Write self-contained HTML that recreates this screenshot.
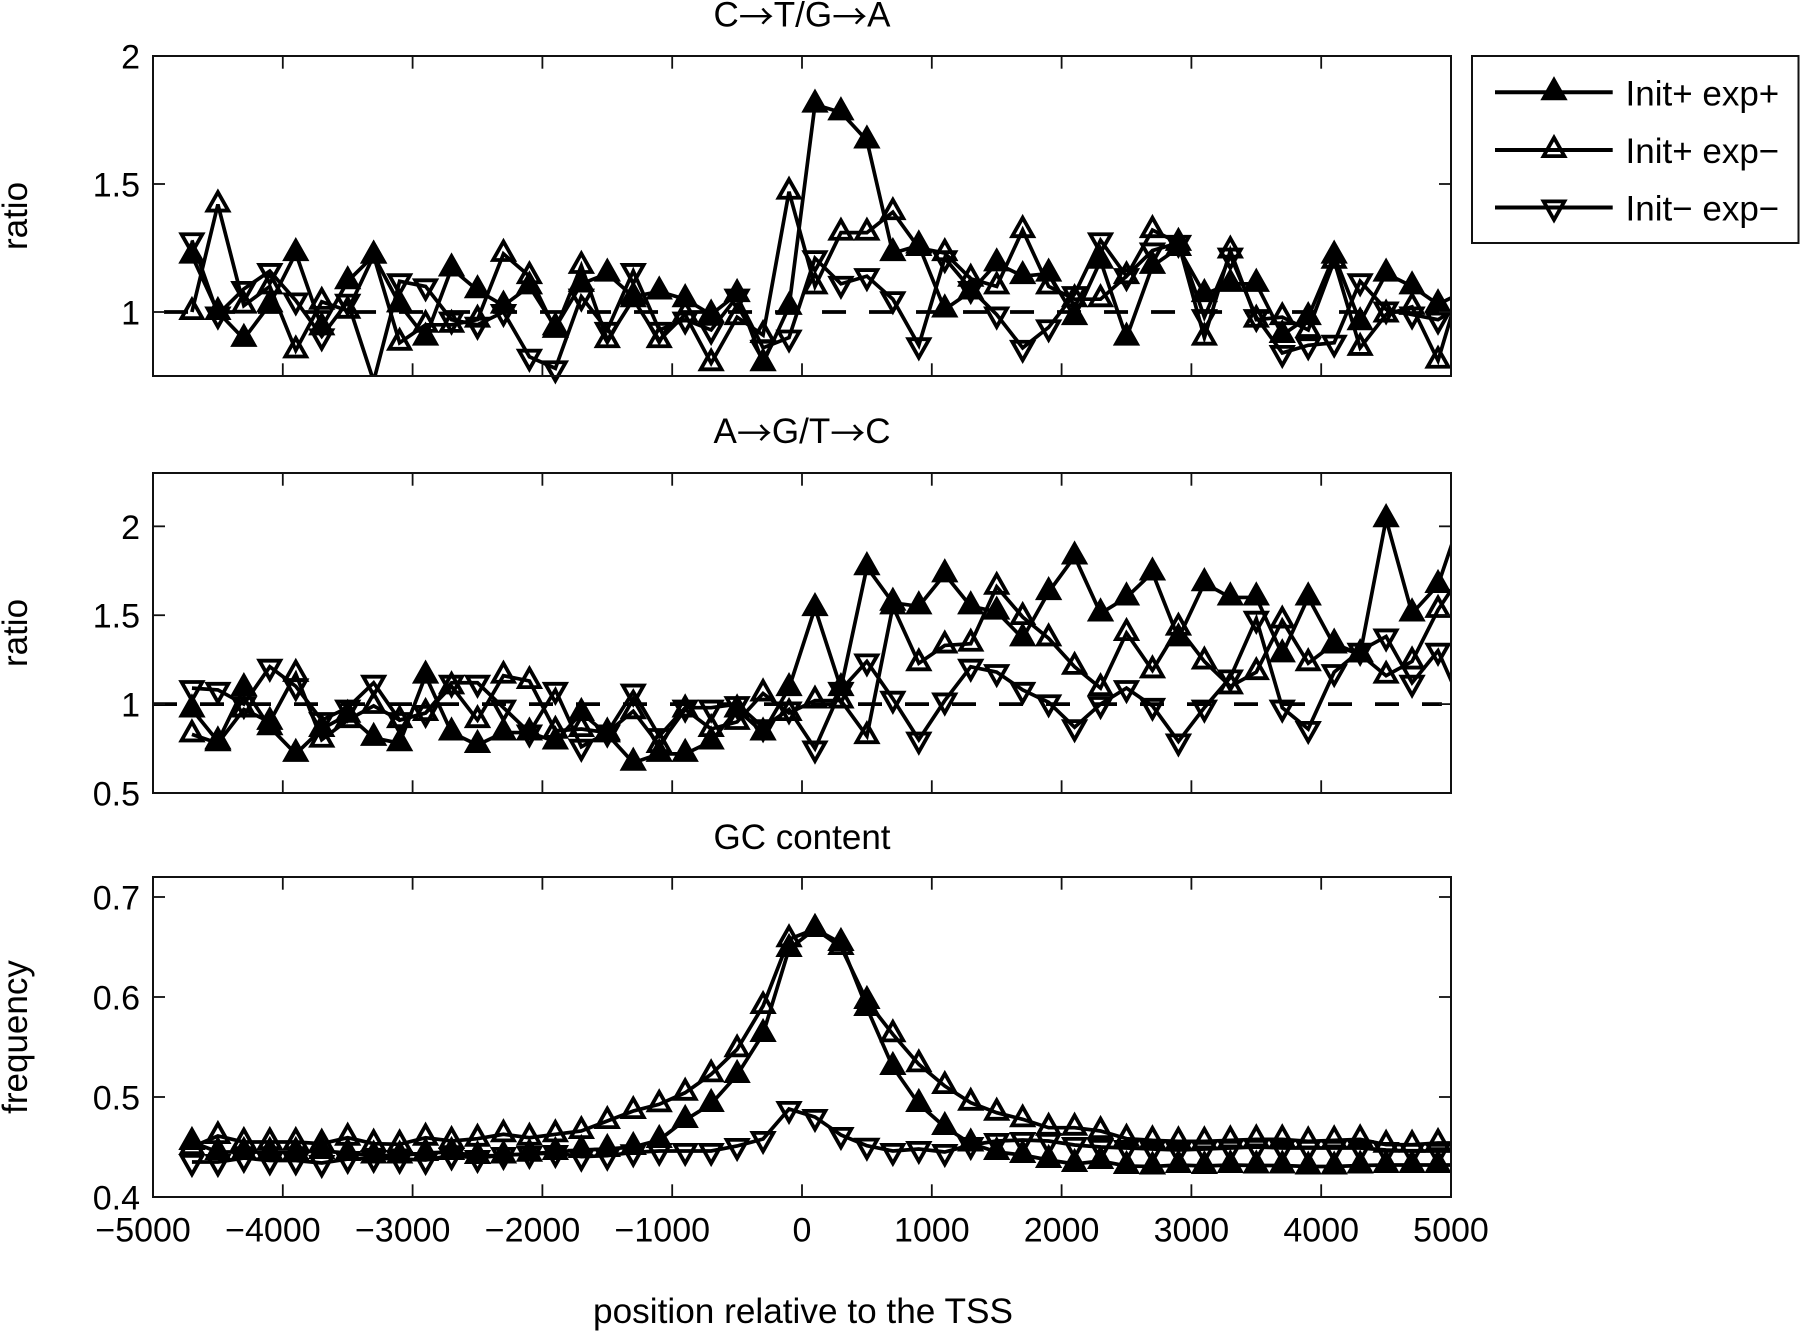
<!DOCTYPE html>
<html lang="en">
<head>
<meta charset="utf-8">
<title>Mutation ratios and GC content around the TSS</title>
<style>
html,body{margin:0;padding:0;background:#fff;}
svg{display:block;font-family:"Liberation Sans",Arial,sans-serif;fill:#000;}
.arrow{font-family:"Noto Sans CJK JP","Liberation Sans",sans-serif;}
</style>
</head>
<body>
<svg id="chart" xmlns="http://www.w3.org/2000/svg" width="1800" height="1332" viewBox="0 0 1800 1332">
  <rect x="0" y="0" width="1800" height="1332" fill="#fff"/>
  <defs>
    <clipPath id="clip-ct"><rect x="153" y="56" width="1298" height="320"/></clipPath>
    <clipPath id="clip-ag"><rect x="153" y="473" width="1298" height="320"/></clipPath>
    <clipPath id="clip-gc"><rect x="153" y="877" width="1298" height="320"/></clipPath>
  </defs>
  <text x="802" y="26.5" font-size="35" text-anchor="middle">C<tspan class="arrow" dy="3">→</tspan><tspan dy="-3">T/G</tspan><tspan class="arrow" dy="3">→</tspan><tspan dy="-3">A</tspan></text>
  <text x="802" y="443" font-size="35" text-anchor="middle">A<tspan class="arrow" dy="3">→</tspan><tspan dy="-3">G/T</tspan><tspan class="arrow" dy="3">→</tspan><tspan dy="-3">C</tspan></text>
  <text x="802" y="849" font-size="35" text-anchor="middle">GC content</text>
  <text transform="translate(27,216) rotate(-90)" font-size="35" text-anchor="middle">ratio</text>
  <text transform="translate(27,633) rotate(-90)" font-size="35" text-anchor="middle">ratio</text>
  <text transform="translate(27,1037) rotate(-90)" font-size="35" text-anchor="middle">frequency</text>
  <text x="803" y="1323" font-size="35.2" text-anchor="middle">position relative to the TSS</text>
  <g id="panels"></g>
  <g>
    <rect x="1472" y="56" width="326.5" height="187" fill="#fff" stroke="#111" stroke-width="2"/>
    <g>
      <line x1="1495" y1="92.3" x2="1612.7" y2="92.3" stroke="#000" stroke-width="4"/>
      <path d="M1554,80 L1564.4,98.4 L1543.6,98.4 Z" fill="#000" stroke="#000" stroke-width="3.8"/>
      <text x="1625.5" y="105.5" font-size="35">Init+ exp+</text>
    </g>
    <g>
      <line x1="1495" y1="150" x2="1612.7" y2="150" stroke="#000" stroke-width="4"/>
      <path d="M1554,137.7 L1564.4,156.1 L1543.6,156.1 Z" fill="none" stroke="#000" stroke-width="3.8"/>
      <text x="1625.5" y="163" font-size="35">Init+ exp−</text>
    </g>
    <g>
      <line x1="1495" y1="207.5" x2="1612.7" y2="207.5" stroke="#000" stroke-width="4"/>
      <path d="M1554,219.8 L1564.4,201.4 L1543.6,201.4 Z" fill="none" stroke="#000" stroke-width="3.8"/>
      <text x="1625.5" y="220.5" font-size="35">Init− exp−</text>
    </g>
  </g>
</svg>
<script>
const positions = [-4700,-4500,-4300,-4100,-3900,-3700,-3500,-3300,-3100,-2900,-2700,-2500,-2300,-2100,-1900,-1700,-1500,-1300,-1100,-900,-700,-500,-300,-100,100,300,500,700,900,1100,1300,1500,1700,1900,2100,2300,2500,2700,2900,3100,3300,3500,3700,3900,4100,4300,4500,4700,4900,5100];

const ctInitPlusExpPlus = [1.22,1.0,.895,1.03,1.23,.94,1.12,1.22,1.03,.9,1.17,1.085,1.025,1.1,.94,1.11,1.15,1.06,1.08,1.05,.99,1.07,.8,1.02,1.81,1.78,1.67,1.23,1.26,1.01,1.08,1.19,1.14,1.15,.98,1.2,.9,1.18,1.25,1.07,1.11,1.11,.91,.98,1.22,.96,1.15,1.1,1.03,1.08];
const ctInitPlusExpMinus = [1.0,1.42,1.025,1.1,.85,1.04,1.005,1.22,.88,.95,.95,.97,1.227,1.14,.93,1.18,.89,1.05,.89,.99,.8,.98,.91,1.47,1.1,1.31,1.31,1.39,1.25,1.23,1.13,1.1,1.32,1.1,1.05,1.05,1.14,1.32,1.27,.9,1.24,.97,.98,.93,1.2,.86,.99,1.02,.81,1.15];
const ctInitMinusExpMinus = [1.28,.99,1.09,1.16,1.045,.905,1.04,.73,1.12,1.1,.97,.95,1.0,.825,.78,1.06,.93,1.16,.93,.97,.93,1.06,.86,.9,1.21,1.11,1.14,1.05,.87,1.21,1.09,.99,.86,.94,1.07,1.28,1.14,1.24,1.27,.98,1.22,.98,.84,.87,.88,1.12,1.01,.99,.97,1.03];

const agInitPlusExpPlus = [.97,.79,1.09,.87,.72,.86,.94,.81,.78,1.16,.84,.77,.84,.84,.79,.95,.83,.67,.72,.72,.79,.97,.84,1.09,1.54,1.09,1.77,1.57,1.55,1.73,1.55,1.52,1.37,1.63,1.83,1.51,1.6,1.74,1.37,1.68,1.6,1.6,1.28,1.6,1.33,1.28,2.04,1.51,1.67,2.1];
const agInitPlusExpMinus = [.83,.78,.97,.9,1.17,.8,.91,.99,.91,.95,1.1,.91,1.16,1.13,.85,.86,.84,.96,.77,.97,.86,.9,1.06,.95,1.02,1.02,.82,1.55,1.23,1.33,1.34,1.66,1.49,1.37,1.21,1.09,1.4,1.19,1.43,1.24,1.1,1.18,1.47,1.23,1.34,1.28,1.16,1.24,1.53,1.75];
const agInitMinusExpMinus = [1.09,1.08,1.0,1.21,1.1,.91,.98,1.12,.91,.95,1.12,1.12,.98,.84,1.08,.76,.84,1.07,.82,.98,.98,1.0,.87,.97,.75,1.08,1.24,1.03,.8,1.02,1.21,1.18,1.08,1.01,.87,1.0,1.09,.99,.79,.98,1.15,1.48,.98,.86,1.18,1.3,1.38,1.12,1.3,.97];

const gcInitPlusExpPlus = [.455,.445,.445,.445,.445,.446,.444,.4415,.4415,.444,.445,.441,.4415,.4433,.445,.447,.448,.45,.457,.477,.493,.522,.563,.648,.668,.654,.589,.53,.493,.47,.4535,.445,.442,.437,.433,.436,.431,.4305,.432,.431,.432,.4315,.4315,.4305,.4305,.4315,.432,.432,.432,.432];
const gcInitPlusExpMinus = [.45,.461,.455,.455,.455,.4533,.4593,.4533,.4527,.4593,.456,.4583,.4627,.4593,.4627,.466,.476,.486,.4927,.5043,.5227,.5477,.591,.6577,.668,.65,.596,.5627,.5327,.511,.4943,.4843,.4777,.4693,.4693,.466,.4583,.4567,.4557,.4557,.4567,.4577,.4577,.4557,.4567,.4577,.4523,.4523,.454,.454];
const gcInitMinusExpMinus = [.435,.435,.439,.4365,.4365,.434,.438,.439,.438,.437,.4415,.439,.442,.443,.444,.4403,.4413,.4447,.446,.446,.446,.451,.458,.488,.48,.462,.4513,.446,.448,.445,.452,.456,.457,.456,.452,.45,.449,.448,.447,.448,.449,.45,.449,.449,.449,.449,.447,.446,.446,.446];

const xTicks = [-5000,-4000,-3000,-2000,-1000,0,1000,2000,3000,4000,5000];
const ctYTicks = [1,1.5,2];
const agYTicks = [0.5,1,1.5,2];
const gcYTicks = [0.4,0.5,0.6,0.7];
const ctYTickLabels = ['1','1.5','2'];
const agYTickLabels = ['0.5','1','1.5','2'];
const gcYTickLabels = ['0.4','0.5','0.6','0.7'];
const xLimits = [-5000,5000];
const ctYLimits = [0.75,2];
const agYLimits = [0.5,2.3];
const gcYLimits = [0.4,0.72];
const referenceLevel = 1;

const NS = 'http://www.w3.org/2000/svg';
const plotLeft = 153, plotRight = 1451;
const root = document.getElementById('panels');

function make(parent, tag, attrs) {
  const el = document.createElementNS(NS, tag);
  for (const k in attrs) el.setAttribute(k, attrs[k]);
  parent.appendChild(el);
  return el;
}
function xScale(v) {
  return plotLeft + (v - xLimits[0]) / (xLimits[1] - xLimits[0]) * (plotRight - plotLeft);
}
function markerPath(kind, x, y) {
  if (kind === 'down') {
    return 'M' + x + ',' + (y + 12.3) + ' L' + (x + 10.4) + ',' + (y - 6.1) + ' L' + (x - 10.4) + ',' + (y - 6.1) + ' Z';
  }
  return 'M' + x + ',' + (y - 12.3) + ' L' + (x + 10.4) + ',' + (y + 6.1) + ' L' + (x - 10.4) + ',' + (y + 6.1) + ' Z';
}
function drawSeries(group, clipId, values, kind, filled, yScale, yLimits) {
  const g = make(group, 'g', {});
  
  
  const pts = values.map(function (v, i) { return xScale(positions[i]).toFixed(2) + ',' + yScale(v).toFixed(2); }).join(' ');
  const line = make(g, 'polyline', { points: pts, fill: 'none', stroke: '#000', 'stroke-width': 3.7, 'stroke-linejoin': 'miter', 'clip-path': 'url(#' + clipId + ')' });
  
  
  values.forEach(function (v, i) {
    if (positions[i] > xLimits[1] || v < yLimits[0] || v > yLimits[1]) return;
    const m = make(g, 'path', { d: markerPath(kind, xScale(positions[i]), yScale(v)), fill: filled ? '#000' : 'none', stroke: '#000', 'stroke-width': 3.8 });
    
    
  });
}
function drawPanel(name, top, bottom, yLimits, yTicks, yLabels, series, clipId, showRef, refStart, showXLabels) {
  const group = make(root, 'g', {});
  
  
  const yScale = function (v) { return bottom - (v - yLimits[0]) / (yLimits[1] - yLimits[0]) * (bottom - top); };

  if (showRef) {
    const ref = make(group, 'line', { x1: xScale(refStart), x2: xScale(4930), y1: yScale(referenceLevel), y2: yScale(referenceLevel), stroke: '#000', 'stroke-width': 3.8, 'stroke-dasharray': '24 23' });
    
    
  }
  drawSeries(group, clipId, series[0], 'up', true, yScale, yLimits);
  drawSeries(group, clipId, series[1], 'up', false, yScale, yLimits);
  drawSeries(group, clipId, series[2], 'down', false, yScale, yLimits);

  const frame = make(group, 'rect', { x: plotLeft, y: top, width: plotRight - plotLeft, height: bottom - top, fill: 'none', stroke: '#111', 'stroke-width': 2 });
  
  

  xTicks.forEach(function (t) {
    const x = xScale(t);
    if (t !== xLimits[0] && t !== xLimits[1]) {
      const a = make(group, 'line', { x1: x, x2: x, y1: top, y2: top + 12.7, stroke: '#111', 'stroke-width': 1.8 });
      
      
      const b = make(group, 'line', { x1: x, x2: x, y1: bottom, y2: bottom - 12.7, stroke: '#111', 'stroke-width': 1.8 });
      
      
    }
    if (showXLabels) {
      const label = make(group, 'text', { x: x - (t < 0 ? 9.9 : 0), y: bottom + 44.5, 'font-size': 34, 'text-anchor': 'middle' });
      label.textContent = (t < 0 ? '−' : '') + Math.abs(t);
      
      
    }
  });
  yTicks.forEach(function (t, i) {
    const y = yScale(t);
    const a = make(group, 'line', { x1: plotLeft, x2: plotLeft + 12, y1: y, y2: y, stroke: '#111', 'stroke-width': 1.8 });
    
    
    const b = make(group, 'line', { x1: plotRight, x2: plotRight - 12, y1: y, y2: y, stroke: '#111', 'stroke-width': 1.8 });
    
    
    const label = make(group, 'text', { x: 140, y: y + 12.5, 'font-size': 34, 'text-anchor': 'end' });
    label.textContent = yLabels[i];
    
    
  });
}

drawPanel('c-to-t', 56, 376, ctYLimits, ctYTicks, ctYTickLabels, [ctInitPlusExpPlus, ctInitPlusExpMinus, ctInitMinusExpMinus], 'clip-ct', true, -4915, false);
drawPanel('a-to-g', 473, 793, agYLimits, agYTicks, agYTickLabels, [agInitPlusExpPlus, agInitPlusExpMinus, agInitMinusExpMinus], 'clip-ag', true, -5000, false);
drawPanel('gc-content', 877, 1197, gcYLimits, gcYTicks, gcYTickLabels, [gcInitPlusExpPlus, gcInitPlusExpMinus, gcInitMinusExpMinus], 'clip-gc', false, 0, true);
</script>
</body>
</html>
